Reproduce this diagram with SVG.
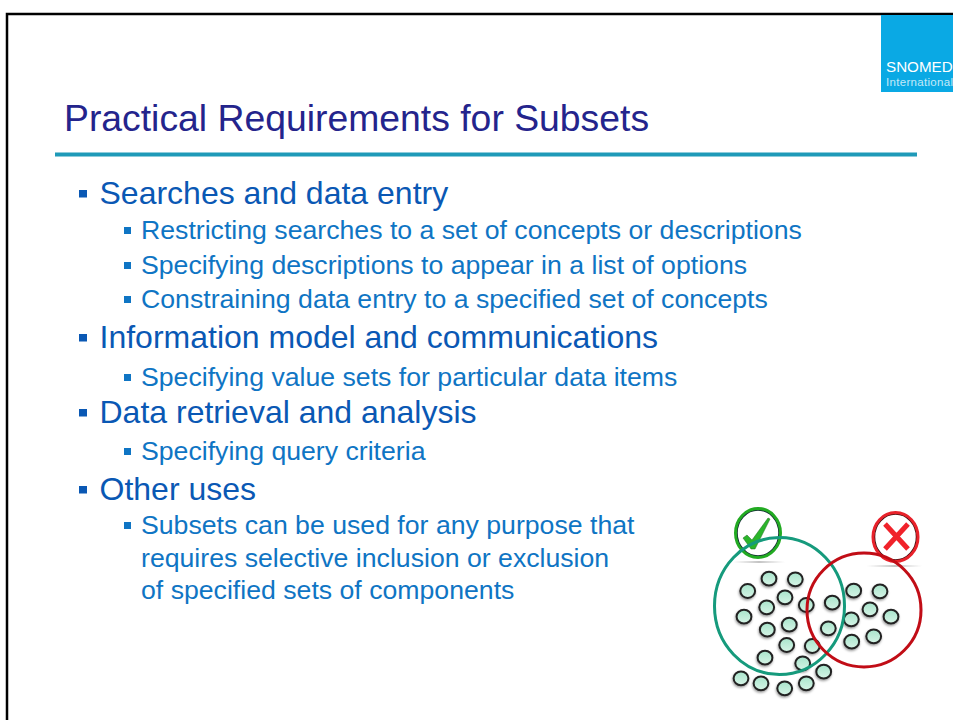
<svg xmlns="http://www.w3.org/2000/svg" xmlns:xlink="http://www.w3.org/1999/xlink" width="953" height="720" viewBox="0 0 953 720">
<style>
text{font-family:"Liberation Sans",Arial,sans-serif}
.title{font-size:37.33px;fill:#24248c}
.l1{font-size:32px;fill:#0a58b4}
.l2{font-size:26.67px;fill:#0f75c4}
.b1{fill:#0a58b4}
.b2{fill:#0f75c4}
.dot{fill:url(#dotFill);stroke:#222;stroke-width:2}
</style>
<defs>
<linearGradient id="dotFill" x1="0" y1="0" x2="0" y2="1"><stop offset="0" stop-color="#a8e4cb"/><stop offset="1" stop-color="#d6f4e6"/></linearGradient>
<linearGradient id="glint" x1="0" y1="0" x2="1" y2="0"><stop offset="0" stop-color="#999" stop-opacity="0"/><stop offset="0.5" stop-color="#888"/><stop offset="1" stop-color="#999" stop-opacity="0"/></linearGradient>
<filter id="soft" x="-20%" y="-20%" width="140%" height="140%"><feGaussianBlur stdDeviation="0.4"/></filter>
<filter id="shadow" x="-30%" y="-30%" width="160%" height="160%"><feDropShadow dx="-0.5" dy="1.500" stdDeviation="1.200" flood-color="#000" flood-opacity="0.4"/></filter>
<ellipse id="d" class="dot" rx="7.400" ry="6.900"/>
</defs>
<rect width="953" height="720" fill="#fff"/>
<path d="M7 720V14H953" fill="none" stroke="#000" stroke-width="2.5"/>
<g id="logo">
<rect x="881" y="15" width="72" height="77" fill="#0aa9e4"/>
<text x="886" y="72" font-size="15.200" fill="#fff">SNOMED</text>
<text x="886" y="85.500" font-size="11.500" fill="#c4e9f8" textLength="67">International</text>
</g>
<text class="title" x="64" y="131">Practical Requirements for Subsets</text>
<rect x="55" y="152.500" width="862" height="4" fill="#1f9ab8"/>
<g id="bullets">
<rect class="b1" x="79" y="190" width="8" height="7.500"/>
<rect class="b2" x="124" y="227" width="7" height="7"/>
<rect class="b2" x="124" y="262" width="7" height="7"/>
<rect class="b2" x="124" y="296" width="7" height="7"/>
<rect class="b1" x="79" y="334" width="8" height="7.500"/>
<rect class="b2" x="124" y="374" width="7" height="7"/>
<rect class="b1" x="79" y="409" width="8" height="7.500"/>
<rect class="b2" x="124" y="448" width="7" height="7"/>
<rect class="b1" x="79" y="486" width="8" height="7.500"/>
<rect class="b2" x="124" y="522" width="7" height="7"/>
</g>
<g id="text">
<text class="l1" x="99.500" y="204">Searches and data entry</text>
<text class="l2" x="141" y="239">Restricting searches to a set of concepts or descriptions</text>
<text class="l2" x="141" y="274">Specifying descriptions to appear in a list of options</text>
<text class="l2" x="141" y="308">Constraining data entry to a specified set of concepts</text>
<text class="l1" x="99.500" y="348">Information model and communications</text>
<text class="l2" x="141" y="386">Specifying value sets for particular data items</text>
<text class="l1" x="99.500" y="423">Data retrieval and analysis</text>
<text class="l2" x="141" y="460">Specifying query criteria</text>
<text class="l1" x="99.500" y="500">Other uses</text>
<text class="l2" x="141" y="534">Subsets can be used for any purpose that</text>
<text class="l2" x="141" y="567">requires selective inclusion or exclusion</text>
<text class="l2" x="141" y="599">of specified sets of components</text>
</g>
<g id="venn" filter="url(#soft)">
<g id="dots" filter="url(#shadow)">
<use xlink:href="#d" x="769" y="578.700"/><use xlink:href="#d" x="795.300" y="579.300"/><use xlink:href="#d" x="747.700" y="591"/><use xlink:href="#d" x="785" y="597.300"/><use xlink:href="#d" x="766.700" y="607.300"/><use xlink:href="#d" x="806.300" y="605"/><use xlink:href="#d" x="832.300" y="602.700"/><use xlink:href="#d" x="853.700" y="590.700"/><use xlink:href="#d" x="880" y="591.300"/><use xlink:href="#d" x="870" y="609.300"/><use xlink:href="#d" x="891" y="616.700"/><use xlink:href="#d" x="851.300" y="619.300"/><use xlink:href="#d" x="744" y="616.700"/><use xlink:href="#d" x="767.300" y="629.700"/><use xlink:href="#d" x="789.300" y="624.700"/><use xlink:href="#d" x="828.300" y="628.300"/><use xlink:href="#d" x="786.700" y="645"/><use xlink:href="#d" x="812.300" y="646"/><use xlink:href="#d" x="851.700" y="641.700"/><use xlink:href="#d" x="873.700" y="636.300"/><use xlink:href="#d" x="765" y="657.700"/><use xlink:href="#d" x="802.700" y="663.300"/><use xlink:href="#d" x="823.700" y="671.700"/><use xlink:href="#d" x="806.300" y="683.300"/><use xlink:href="#d" x="784.700" y="688.300"/><use xlink:href="#d" x="761" y="683.300"/><use xlink:href="#d" x="741" y="678.300"/>
</g>
<rect x="733" y="561.500" width="52" height="1" fill="url(#glint)"/>
<rect x="867" y="565.500" width="55" height="1" fill="url(#glint)"/>
<g id="check">
<ellipse cx="758" cy="533" rx="21" ry="23" fill="none" stroke="#123" stroke-width="1.500"/>
<ellipse cx="758" cy="533" rx="22.500" ry="24.500" fill="none" stroke="#22aa22" stroke-width="3"/>
<path d="M743 538L747 535L752 540L768 518L770 519L755 549L751 549Z" fill="#2cb52c" stroke="#1c6a1c" stroke-width="0.500"/>
</g>
<g id="cross">
<ellipse cx="895.500" cy="537" rx="21" ry="23" fill="none" stroke="#411" stroke-width="1.500"/>
<ellipse cx="895.500" cy="537" rx="22.500" ry="24.500" fill="none" stroke="#e8202a" stroke-width="3"/>
<path d="M885 524L908 549M908 524L885 549" fill="none" stroke="#f0202a" stroke-width="5"/>
</g>
<ellipse cx="779.500" cy="606" rx="65" ry="68.500" fill="none" stroke="#139a7c" stroke-width="3"/>
<ellipse cx="864" cy="610" rx="57" ry="57" fill="none" stroke="#c10a14" stroke-width="3"/>
</g>
</svg>
